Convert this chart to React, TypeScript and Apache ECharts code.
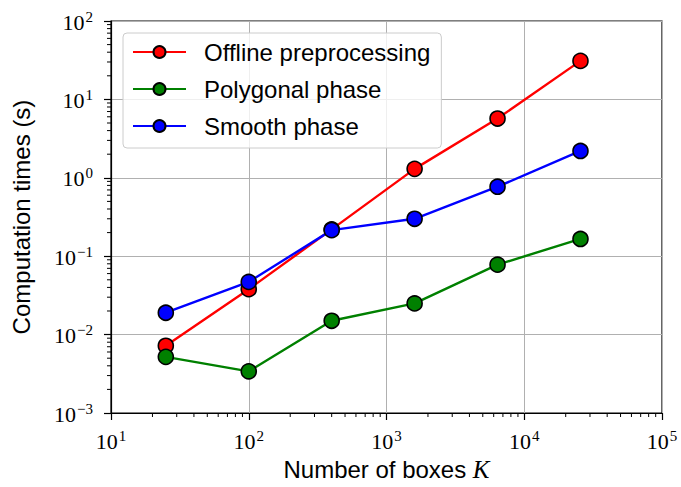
import React, { useEffect, useRef } from "react";
import * as echarts from "echarts";

const boxes = [25, 100, 400, 1600, 6400, 25600];
const offline = [0.0072, 0.038, 0.22, 1.3, 5.7, 31];
const polygonal = [0.0052, 0.0034, 0.015, 0.025, 0.078, 0.166];
const smooth = [0.019, 0.047, 0.215, 0.3, 0.77, 2.2];

const seriesNames = ["Offline preprocessing", "Polygonal phase", "Smooth phase"];
const seriesColors = ["#ff0000", "#008000", "#0000ff"];
const seriesValues = [offline, polygonal, smooth];

const xMin = 10, xMax = 1e5, yMin = 1e-3, yMax = 1e2;

function minorTicks(lo: number, hi: number): number[] {
  const out: number[] = [];
  for (let d = lo; d < hi; d *= 10) {
    for (let m = 2; m <= 9; m++) out.push(Math.round(m * d * 1e6) / 1e6);
  }
  return out;
}

function expLabel(v: number): string {
  const e = Math.round(Math.log10(v));
  const s = e < 0 ? "\u2212" + Math.abs(e) : String(e);
  return `{b|10}{s|${s}}`;
}

const tickRich = {
  b: { fontFamily: "Liberation Serif", fontSize: 22, color: "#000", lineHeight: 24, verticalAlign: "bottom" },
  s: { fontFamily: "Liberation Serif", fontSize: 15, color: "#000", lineHeight: 24, verticalAlign: "bottom", padding: [0, 0, 9, 1] },
};

export default function App() {
  const ref = useRef<HTMLDivElement>(null);
  useEffect(() => {
    if (!ref.current) return;
    const chart = echarts.init(ref.current, null, { renderer: "svg" });
    const axisCommon = {
      type: "log",
      logBase: 10,
      axisLine: { show: true, lineStyle: { color: "#000", width: 1.2 } },
      axisTick: { show: true, inside: false, length: 7, lineStyle: { color: "#000", width: 1.2 } },
      splitLine: { show: true, lineStyle: { color: "#b0b0b0", width: 1 } },
      nameLocation: "middle",
    };
    const lineSeries = seriesNames.map((name, i) => ({
      name,
      type: "line",
      data: boxes.map((b, j) => [b, seriesValues[i][j]]),
      symbol: "circle",
      symbolSize: 15,
      lineStyle: { color: seriesColors[i], width: 2.4 },
      itemStyle: { color: seriesColors[i], borderColor: "#000", borderWidth: 1.6 },
      z: 3 + i,
    }));
    const xMinor = minorTicks(xMin, xMax);
    const yMinor = minorTicks(yMin, yMax);
    chart.setOption({
      animation: false,
      grid: {
        left: 111, right: 19, top: 21, bottom: 69,
        show: true, borderColor: "#000", borderWidth: 1.2, backgroundColor: "transparent",
      },
      legend: {
        data: seriesNames,
        orient: "vertical",
        left: 123,
        top: 33,
        itemWidth: 53,
        itemHeight: 15,
        itemGap: 11,
        padding: [6, 11, 9, 9],
        backgroundColor: "rgba(255,255,255,0.8)",
        borderColor: "#cccccc",
        borderWidth: 1,
        borderRadius: 4,
        textStyle: { fontFamily: "Liberation Sans", fontSize: 24, color: "#000", lineHeight: 26, padding: [0, 0, 0, 13] },
      },
      xAxis: {
        ...axisCommon,
        min: xMin,
        max: xMax,
        name: "Number of boxes {k|K}",
        nameGap: 44,
        nameTextStyle: {
          fontFamily: "Liberation Sans", fontSize: 24, color: "#000",
          rich: { k: { fontFamily: "Liberation Serif", fontStyle: "italic", fontSize: 25, color: "#000" } },
        },
        axisLabel: { margin: 15, formatter: expLabel, rich: tickRich },
      },
      yAxis: {
        ...axisCommon,
        min: yMin,
        max: yMax,
        name: "Computation times (s)",
        nameGap: 78,
        nameTextStyle: { fontFamily: "Liberation Sans", fontSize: 24, color: "#000" },
        axisLabel: { margin: 18, formatter: expLabel, rich: tickRich },
      },
      series: [
        ...lineSeries,
        {
          type: "custom",
          silent: true,
          clip: false,
          z: 10,
          data: xMinor.map((v) => [v, yMin]),
          renderItem: (params: any, api: any) => {
            const p = api.coord([api.value(0), yMin]);
            return { type: "line", shape: { x1: p[0], y1: p[1], x2: p[0], y2: p[1] + 4 }, style: { stroke: "#000", lineWidth: 1 } };
          },
        },
        {
          type: "custom",
          silent: true,
          clip: false,
          z: 10,
          data: yMinor.map((v) => [xMin, v]),
          renderItem: (params: any, api: any) => {
            const p = api.coord([xMin, api.value(1)]);
            return { type: "line", shape: { x1: p[0], y1: p[1], x2: p[0] - 4, y2: p[1] }, style: { stroke: "#000", lineWidth: 1 } };
          },
        },
      ],
    });
    return () => chart.dispose();
  }, []);
  return <div ref={ref} style={{ position: "absolute", left: 0, top: 0, width: 681, height: 487 }} />;
}
